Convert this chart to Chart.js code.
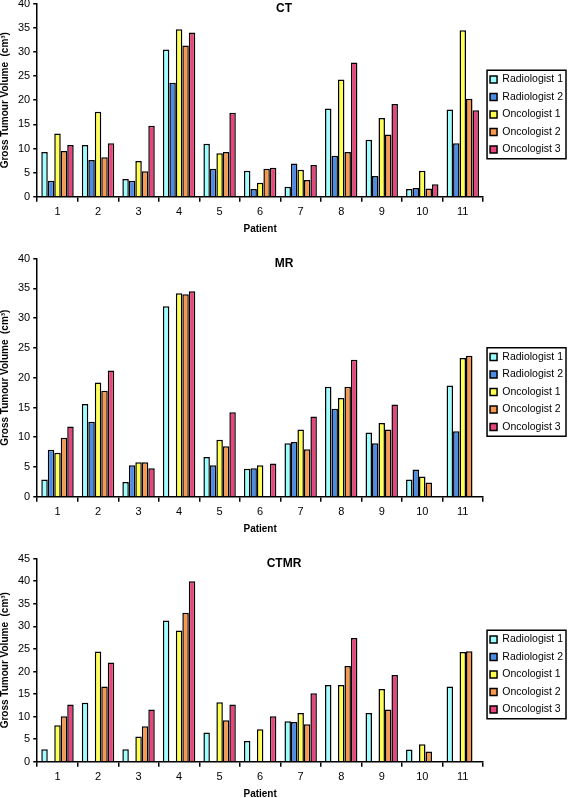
<!DOCTYPE html>
<html>
<head>
<meta charset="utf-8">
<script src="https://cdn.jsdelivr.net/npm/chart.js@4.4.1/dist/chart.umd.min.js"></script>
<style>
  html, body { margin: 0; padding: 0; background: #fff; }
  body { width: 568px; height: 798px; position: relative; overflow: hidden; }
  .box { position: absolute; left: 0; width: 568px; }
</style>
</head>
<body>
<div class="box" style="top:-6px;height:241px"><canvas id="chartCT"></canvas></div>
<div class="box" style="top:249px;height:286px"><canvas id="chartMR"></canvas></div>
<div class="box" style="top:549px;height:251px"><canvas id="chartCTMR"></canvas></div>
<script>
// Gross tumour volume per patient, three imaging modalities
const patients = ['1', '2', '3', '4', '5', '6', '7', '8', '9', '10', '11'];
const observers = ['Radiologist 1', 'Radiologist 2', 'Oncologist 1', 'Oncologist 2', 'Oncologist 3'];
const colours = ['#9CFFFF', '#4A8CE6', '#FFFF50', '#F7984E', '#E6467C'];

// CT
const ctRad1 = [9.3, 10.7, 3.7, 30.5, 11.0, 5.4, 2.1, 18.3, 11.8, 1.6, 18.1];
const ctRad2 = [3.3, 7.6, 3.3, 23.6, 5.8, 1.6, 6.9, 8.5, 4.3, 1.8, 11.1];
const ctOnc1 = [13.1, 17.6, 7.4, 34.7, 9.0, 2.9, 5.6, 24.3, 16.3, 5.4, 34.5];
const ctOnc2 = [9.5, 8.2, 5.3, 31.3, 9.3, 5.8, 3.5, 9.3, 12.9, 1.7, 20.3];
const ctOnc3 = [10.7, 11.1, 14.7, 34.0, 17.4, 6.0, 6.6, 27.8, 19.2, 2.6, 17.9];

// MR
const mrRad1 = [2.9, 15.6, 2.5, 32.0, 6.7, 4.7, 9.0, 18.5, 10.8, 2.9, 18.7];
const mrRad2 = [7.9, 12.6, 5.3, null, 5.3, 4.8, 9.2, 14.8, 9.0, 4.6, 11.0];
const mrOnc1 = [7.4, 19.2, 5.8, 34.2, 9.6, 5.3, 11.3, 16.6, 12.4, 3.4, 23.3];
const mrOnc2 = [9.9, 17.8, 5.8, 34.0, 8.5, null, 8.0, 18.5, 11.3, 2.4, 23.7];
const mrOnc3 = [11.8, 21.2, 4.8, 34.5, 14.2, 5.6, 13.5, 23.0, 15.5, null, null];

// CTMR
const ctmrRad1 = [2.8, 13.1, 2.8, 31.3, 6.5, 4.6, 9.0, 17.0, 10.8, 2.7, 16.7];
const ctmrRad2 = [null, null, null, null, null, null, 8.8, null, null, null, null];
const ctmrOnc1 = [8.1, 24.4, 5.6, 29.1, 13.2, 7.2, 10.8, 17.0, 16.1, 3.9, 24.3];
const ctmrOnc2 = [10.1, 16.7, 7.9, 33.0, 9.2, null, 8.3, 21.2, 11.6, 2.3, 24.5];
const ctmrOnc3 = [12.7, 22.0, 11.6, 40.0, 12.7, 10.1, 15.2, 27.4, 19.2, null, null];

const FONT = '"Liberation Sans", Arial, sans-serif';

// chart title inside the plot + frame around the legend
const frame = {
  id: 'frame',
  afterDraw(chart, args, opts) {
    const ctx = chart.ctx;
    const boxes = chart.legend.legendHitBoxes;
    let x0 = Infinity, y0 = Infinity, x1 = -Infinity, y1 = -Infinity;
    boxes.forEach(b => {
      x0 = Math.min(x0, b.left); y0 = Math.min(y0, b.top);
      x1 = Math.max(x1, b.left + b.width); y1 = Math.max(y1, b.top + b.height);
    });
    ctx.save();
    ctx.strokeStyle = '#000';
    ctx.lineWidth = 1.5;
    ctx.strokeRect(x0 - 3, y0 - 4, x1 - x0 + 6, y1 - y0 + 8);
    ctx.fillStyle = '#000';
    ctx.font = 'bold 12px ' + FONT;
    ctx.textAlign = 'center';
    ctx.textBaseline = 'middle';
    ctx.fillText(opts.text, chart.width / 2, chart.chartArea.top + 5);
    ctx.restore();
  }
};

function makeChart(id, title, series, yMax) {
  return new Chart(document.getElementById(id), {
    type: 'bar',
    data: {
      labels: patients,
      datasets: series.map((vals, i) => ({
        label: observers[i],
        data: vals,
        backgroundColor: colours[i],
        borderColor: '#000',
        borderWidth: 1.5
      }))
    },
    options: {
      responsive: true,
      maintainAspectRatio: false,
      animation: false,
      categoryPercentage: 0.8,
      barPercentage: 1.0,
      layout: { padding: { top: 0, right: -5, bottom: 0, left: -1 } },
      scales: {
        x: {
          grid: { drawOnChartArea: false, offset: true, color: '#000', tickLength: 5, lineWidth: 1.5 },
          border: { color: '#000', width: 1.5 },
          ticks: { color: '#000', padding: 4, font: { family: FONT, size: 11 } },
          title: { display: true, text: 'Patient', color: '#000', padding: { top: 0, bottom: 0 },
                   font: { family: FONT, size: 10, weight: 'bold' } }
        },
        y: {
          min: 0,
          max: yMax,
          grid: { drawOnChartArea: false, color: '#000', tickLength: 4, lineWidth: 1.5 },
          border: { color: '#000', width: 1.5 },
          ticks: { stepSize: 5, color: '#000', padding: 3, font: { family: FONT, size: 11 } },
          title: { display: true, text: 'Gross Tumour Volume  (cm³)', color: '#000',
                   padding: { top: 0, bottom: 4 }, font: { family: FONT, size: 10, weight: 'bold' } }
        }
      },
      plugins: {
        legend: {
          position: 'right',
          labels: { boxWidth: 7, boxHeight: 7, padding: 7, color: '#000',
                    font: { family: FONT, size: 10.5 } }
        },
        tooltip: { enabled: false },
        frame: { text: title }
      }
    },
    plugins: [frame]
  });
}

makeChart('chartCT', 'CT', [ctRad1, ctRad2, ctOnc1, ctOnc2, ctOnc3], 40);
makeChart('chartMR', 'MR', [mrRad1, mrRad2, mrOnc1, mrOnc2, mrOnc3], 40);
makeChart('chartCTMR', 'CTMR', [ctmrRad1, ctmrRad2, ctmrOnc1, ctmrOnc2, ctmrOnc3], 45);
</script>
</body>
</html>
